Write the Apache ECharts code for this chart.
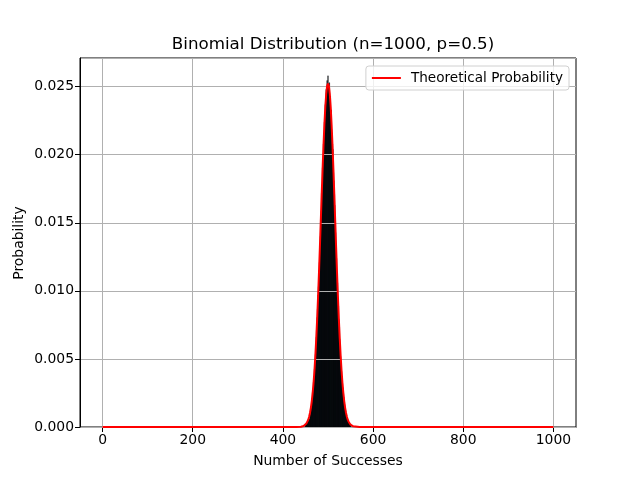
<!DOCTYPE html>
<html>
    <head>
        <meta charset="UTF-8">
        <script type="text/javascript" src="https://cdn.jsdelivr.net/npm/echarts@6/dist/echarts.min.js"></script>
    </head>
    <body style="margin:0">
        <div id="container" style="width: 640px;height: 480px"></div>
        <script type="text/javascript">
        // histogram of simulated samples, one bin per success count
        var histStart = 450;
        var histValues = [
            0.00016, 0.00020, 0.00021, 0.00026, 0.00031, 0.00043, 0.00036, 0.00047, 0.00056, 0.00060,
            0.00101, 0.00087, 0.00116, 0.00138, 0.00192, 0.00214, 0.00255, 0.00281, 0.00330, 0.00362,
            0.00425, 0.00460, 0.00534, 0.00580, 0.00660, 0.00712, 0.00805, 0.00866, 0.00970, 0.01032,
            0.01150, 0.01210, 0.01335, 0.01401, 0.01525, 0.01590, 0.01718, 0.01780, 0.01905, 0.01960,
            0.02080, 0.02125, 0.02240, 0.02270, 0.02370, 0.02385, 0.02480, 0.02455, 0.02545, 0.02500,
            0.02580, 0.02490, 0.02495, 0.02530, 0.02410, 0.02430, 0.02320, 0.02330, 0.02190, 0.02160,
            0.02080, 0.02040, 0.01870, 0.01810, 0.01710, 0.01630, 0.01500, 0.01430, 0.01310, 0.01240,
            0.01120, 0.01060, 0.00945, 0.00890, 0.00790, 0.00735, 0.00645, 0.00595, 0.00520, 0.00475,
            0.00410, 0.00375, 0.00320, 0.00290, 0.00245, 0.00222, 0.00185, 0.00166, 0.00138, 0.00122,
            0.00100, 0.00090, 0.00072, 0.00065, 0.00050, 0.00046, 0.00035, 0.00031, 0.00024, 0.00021,
            0.00016
        ];

        // theoretical pmf
        var theoX = [0, 430, 440, 442, 444, 446, 448, 450, 452, 454, 456, 458, 460, 462, 464, 466, 468,
            470, 472, 474, 476, 478, 480, 482, 484, 486, 488, 490, 492, 494, 496, 498, 500,
            502, 504, 506, 508, 510, 512, 514, 516, 518, 520, 522, 524, 526, 528, 530, 532,
            534, 536, 538, 540, 542, 544, 546, 548, 550, 552, 554, 556, 558, 560, 570, 1000];
        var theoY = [0, 0, 0.00002, 0.00003, 0.00005, 0.00007, 0.00011, 0.00017, 0.00025, 0.00037, 0.00052, 0.00074, 0.00103, 0.00141, 0.00189, 0.00250, 0.00325,
            0.00417, 0.00526, 0.00653, 0.00797, 0.00958, 0.01134, 0.01320, 0.01512, 0.01705, 0.01892, 0.02066, 0.02220, 0.02348, 0.02444, 0.02503, 0.02523,
            0.02503, 0.02444, 0.02348, 0.02220, 0.02066, 0.01892, 0.01705, 0.01512, 0.01320, 0.01134, 0.00958, 0.00797, 0.00653, 0.00526, 0.00417, 0.00325,
            0.00250, 0.00189, 0.00141, 0.00103, 0.00074, 0.00052, 0.00037, 0.00025, 0.00017, 0.00011, 0.00007, 0.00005, 0.00003, 0.00002, 0, 0];

        var xTicks = [0, 200, 400, 600, 800, 1000];

        var histData = histValues.map(function (v, i) { return [histStart + i, v]; });
        var theoData = theoX.map(function (x, i) { return [x, theoY[i]]; });

        var font = 'DejaVu Sans';
        var myChart = echarts.init(document.getElementById("container"));
        var option = {
            animation: false,
            backgroundColor: '#ffffff',
            title: {
                text: 'Binomial Distribution (n=1000, p=0.5)',
                left: 328,
                textAlign: 'center',
                top: 31,
                textStyle: {fontFamily: font, fontSize: 16.7, fontWeight: 'normal', color: '#000'}
            },
            // y axis title, placed by hand like matplotlib's ylabel
            graphic: [{
                type: 'text',
                x: 19,
                y: 243,
                rotation: Math.PI / 2,
                style: {
                    text: 'Probability',
                    fontFamily: font,
                    fontSize: 13.9,
                    fill: '#000',
                    align: 'center',
                    verticalAlign: 'middle'
                }
            }],
            legend: {
                data: ['Theoretical Probability'],
                right: 71,
                top: 66,
                padding: [5, 6, 5, 5],
                itemWidth: 29,
                itemHeight: 2,
                itemGap: 10,
                borderColor: '#d0d0d0',
                borderWidth: 1,
                borderRadius: 3,
                backgroundColor: 'rgba(255,255,255,0.8)',
                textStyle: {fontFamily: font, fontSize: 13.6, color: '#000', padding: [0, 0, 0, 5]}
            },
            grid: {
                left: 80, right: 64, top: 58, bottom: 53,
                show: true,
                borderColor: '#000',
                borderWidth: 1,
                backgroundColor: 'transparent'
            },
            xAxis: {
                type: 'value',
                min: -50,
                max: 1050,
                name: 'Number of Successes',
                nameLocation: 'middle',
                nameGap: 27,
                nameTextStyle: {fontFamily: font, fontSize: 13.9, color: '#000'},
                axisLine: {show: true, onZero: false, lineStyle: {color: '#000', width: 1}},
                axisTick: {show: true, length: 5, customValues: xTicks, lineStyle: {color: '#000'}},
                axisLabel: {
                    customValues: xTicks, fontFamily: font, fontSize: 13.9, color: '#000', margin: 6,
                    formatter: function (v) { return String(v); }
                },
                splitLine: {show: true, lineStyle: {color: '#b0b0b0', width: 1}}
            },
            yAxis: {
                type: 'value',
                min: 0,
                max: 0.0271,
                interval: 0.005,
                z: 3,
                axisLine: {show: true, onZero: false, lineStyle: {color: '#000', width: 1}},
                axisTick: {show: true, length: 5, lineStyle: {color: '#000'}},
                axisLabel: {
                    fontFamily: font, fontSize: 13.9, color: '#000', margin: 6,
                    formatter: function (v) { return v.toFixed(3); },
                    showMaxLabel: false
                },
                splitLine: {show: true, lineStyle: {color: '#b0b0b0', width: 1}}
            },
            series: [
                {
                    name: 'Samples',
                    type: 'bar',
                    data: histData,
                    barWidth: 1,
                    barGap: '-100%',
                    itemStyle: {color: '#040b12', borderColor: '#000', borderWidth: 0.3},
                    z: 2
                },
                {
                    name: 'Theoretical Probability',
                    type: 'line',
                    data: theoData,
                    symbol: 'none',
                    showSymbol: false,
                    lineStyle: {color: '#ff0000', width: 2},
                    itemStyle: {color: '#ff0000'},
                    z: 5
                }
            ]
        };
        myChart.setOption(option);
        </script>
    </body>
</html>
